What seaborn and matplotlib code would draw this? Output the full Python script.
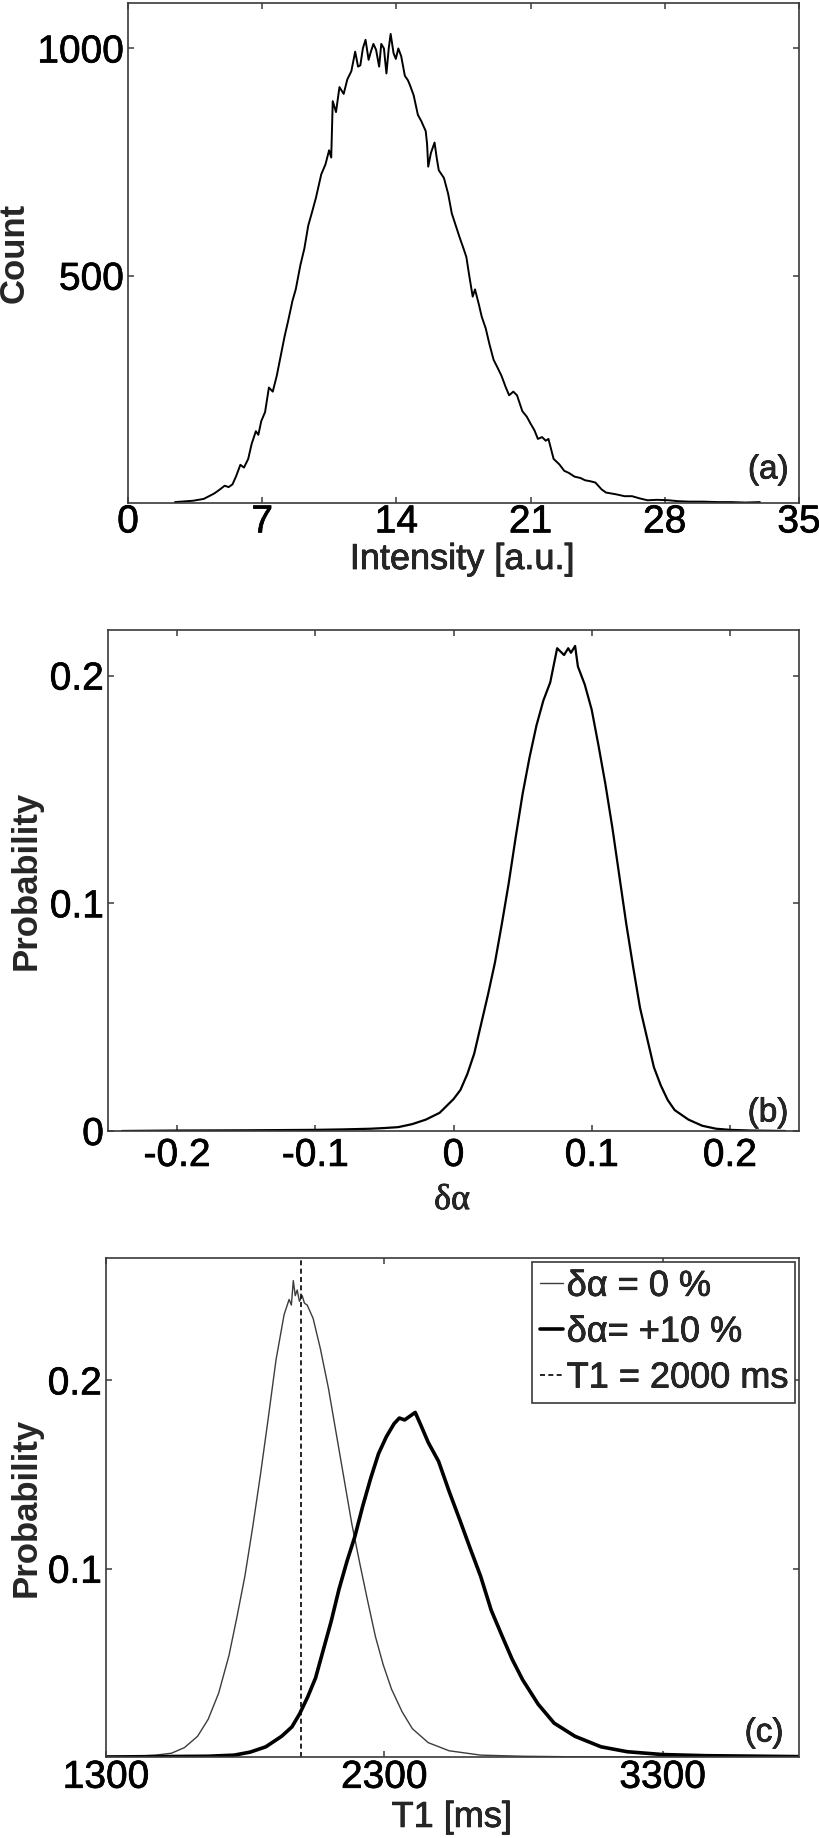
import matplotlib
matplotlib.use("Agg")
import matplotlib.pyplot as plt
import matplotlib.patheffects as pe
import seaborn as sns
import pandas as pd

# ---------------- data ----------------
intensity = [2.45, 3.4, 3.95, 4.5, 4.8, 5.04, 5.25, 5.45, 5.65, 5.86, 6.05, 6.27, 6.45, 6.67, 6.8,
             6.95, 7.15, 7.35, 7.55, 7.76, 7.95, 8.17, 8.35, 8.58, 8.75, 8.99, 9.2, 9.4, 9.6, 9.8,
             10.08, 10.3, 10.49, 10.6, 10.68, 10.85, 11.03, 11.25, 11.44, 11.65, 11.85, 12.0, 12.12,
             12.25, 12.39, 12.55, 12.67, 12.8, 12.94, 13.1, 13.21, 13.35, 13.48, 13.6, 13.7, 13.85,
             13.97, 14.1, 14.25, 14.35, 14.44, 14.6, 14.71, 14.9, 15.12, 15.3, 15.53, 15.6, 15.66,
             15.8, 15.99, 16.1, 16.21, 16.48, 16.7, 16.89, 17.1, 17.3, 17.5, 17.65, 17.8, 17.98,
             18.1, 18.3, 18.45, 18.66, 18.85, 19.07, 19.25, 19.48, 19.7, 19.88, 20.1, 20.29, 20.57,
             20.8, 20.98, 21.2, 21.38, 21.6, 21.79, 21.93, 22.2, 22.5, 22.75, 23.0, 23.29, 23.6,
             23.84, 24.1, 24.38, 24.7, 24.93, 25.2, 25.47, 25.9, 26.29, 26.7, 27.1, 27.6, 28.2,
             28.7, 29.28, 30.0, 30.8, 31.46, 32.2, 32.96]
counts = [2, 5, 9, 21, 30, 38, 35, 41, 60, 84, 78, 97, 130, 158, 150, 180, 200, 254, 245, 280,
          320, 367, 400, 445, 470, 523, 560, 610, 640, 671, 723, 745, 776, 760, 884, 860, 915, 900,
          932, 950, 993, 960, 963, 1000, 1019, 975, 993, 1010, 997, 960, 1010, 1000, 945, 1000,
          1032, 990, 977, 1000, 983, 960, 940, 930, 919, 897, 854, 840, 818, 790, 740, 770, 793,
          760, 732, 715, 680, 637, 610, 584, 560, 541, 500, 454, 470, 437, 410, 384, 350, 315,
          300, 280, 255, 237, 245, 237, 202, 190, 176, 160, 141, 145, 137, 141, 97, 85, 71, 66,
          58, 55, 50, 48, 45, 30, 23, 21, 19, 15, 15, 10, 6, 7, 6, 4, 3, 3, 2, 2, 1, 2]

delta_alpha = [-0.24, -0.22, -0.2, -0.15, -0.1, -0.08, -0.06, -0.05, -0.04, -0.03, -0.02, -0.01,
               0.0, 0.005, 0.01, 0.015, 0.02, 0.025, 0.03, 0.035, 0.04, 0.045, 0.05, 0.055, 0.06,
               0.065, 0.07, 0.075, 0.08, 0.083, 0.085, 0.088, 0.09, 0.095, 0.1, 0.105, 0.11,
               0.115, 0.12, 0.125, 0.13, 0.135, 0.14, 0.145, 0.15, 0.155, 0.16, 0.17, 0.18,
               0.19, 0.2, 0.215, 0.24]
prob_alpha = [0.0, 0.0001, 0.0002, 0.0003, 0.0005, 0.0007, 0.001, 0.0013, 0.0017, 0.003, 0.005,
              0.008, 0.014, 0.018, 0.025, 0.034, 0.047, 0.060, 0.074, 0.091, 0.109, 0.129,
              0.148, 0.164, 0.178, 0.189, 0.197, 0.212, 0.209, 0.212, 0.210, 0.213, 0.204,
              0.196, 0.185, 0.169, 0.152, 0.133, 0.112, 0.091, 0.072, 0.054, 0.041, 0.028,
              0.020, 0.0136, 0.0092, 0.005, 0.0023, 0.001, 0.0005, 0.0002, 0.0]

t1_ms_0 = [1347, 1479, 1535, 1582, 1629, 1667, 1705, 1742, 1770, 1799, 1827, 1855, 1883, 1911,
           1940, 1958, 1966, 1973, 1980, 1987, 1995, 2005, 2013, 2023, 2044, 2070, 2099, 2127,
           2155, 2183, 2213, 2240, 2268, 2296, 2326, 2364, 2401, 2458, 2533, 2646, 2797, 2985,
           3300, 3788]
prob_t1_0 = [0.0, 0.001, 0.002, 0.005, 0.011, 0.020, 0.034, 0.054, 0.074, 0.096, 0.122, 0.150,
             0.180, 0.211, 0.235, 0.243, 0.240, 0.253, 0.245, 0.248, 0.242, 0.245, 0.241, 0.240,
             0.233, 0.217, 0.196, 0.172, 0.148, 0.124, 0.102, 0.083, 0.064, 0.049, 0.036,
             0.024, 0.015, 0.0076, 0.0033, 0.001, 0.0004, 0.0001, 0.0, 0.0]

t1_ms_10 = [1300, 1667, 1761, 1818, 1874, 1931, 1968, 1996, 2025, 2053, 2081, 2109, 2137, 2166,
            2194, 2222, 2251, 2279, 2307, 2335, 2354, 2373, 2392, 2411, 2429, 2458, 2495, 2533,
            2571, 2608, 2646, 2684, 2721, 2759, 2797, 2853, 2910, 2985, 3079, 3173, 3300, 3455,
            3788]
prob_t1_10 = [0.0, 0.0004, 0.001, 0.0026, 0.0054, 0.011, 0.016, 0.023, 0.032, 0.042, 0.057,
              0.072, 0.089, 0.104, 0.117, 0.133, 0.148, 0.161, 0.170, 0.177, 0.180, 0.179,
              0.181, 0.183, 0.177, 0.167, 0.157, 0.141, 0.126, 0.111, 0.096, 0.078, 0.065,
              0.052, 0.041, 0.028, 0.018, 0.011, 0.0054, 0.0028, 0.0013, 0.0007, 0.0002]

T1_TRUE = 2000
legend_labels = ["δα = 0 %", "δα= +10 %", "T1 = 2000 ms"]

# ---------------- style ----------------
sns.set_style("ticks")
plt.rcParams["font.family"] = ["Liberation Sans", "DejaVu Sans"]
plt.rcParams["axes.unicode_minus"] = False

EDGE = "#3a3a3a"
TICK_FS = 28
LABEL_FS = 26
HEAVY = [pe.withStroke(linewidth=0.5, foreground="black")]

fig = plt.figure(figsize=(8.19, 18.38), dpi=100)
W, H = 819.0, 1838.0


def make_ax(left, right, top, bottom):
    return fig.add_axes([left / W, 1 - bottom / H, (right - left) / W, (bottom - top) / H])


def style_ax(ax, xpad):
    for s in ax.spines.values():
        s.set_color(EDGE)
        s.set_linewidth(1.2)
        s.set_visible(True)
    ax.tick_params(direction="in", length=4.5, width=1.1, color=EDGE, top=True, right=True,
                   labelsize=TICK_FS, labelcolor="black")
    ax.tick_params(axis="x", pad=xpad)
    ax.tick_params(axis="y", pad=3)
    for t in ax.get_xticklabels() + ax.get_yticklabels():
        t.set_path_effects(HEAVY)


# ---- panel (a)
ax1 = make_ax(128, 799, 3, 503)
df_a = pd.DataFrame({"Intensity": intensity, "Count": counts})
sns.lineplot(data=df_a, x="Intensity", y="Count", ax=ax1, color="black", linewidth=1.4,
             sort=False, estimator=None)
ax1.set_xlim(0, 35)
ax1.set_ylim(0, 1100)
ax1.set_xticks([0, 7, 14, 21, 28, 35])
ax1.set_xticklabels(["0", "7", "14", "21", "28", "35"])
ax1.set_yticks([500, 1000])
ax1.set_yticklabels(["500", "1000"])
style_ax(ax1, 1)
ax1.set_xlabel("Intensity [a.u.]", fontsize=LABEL_FS, path_effects=HEAVY)
ax1.set_ylabel("Count", fontsize=25, fontweight="bold")
ax1.xaxis.set_label_coords(0.498, -0.078)
ax1.yaxis.set_label_coords(-0.145, 0.5)
ax1.text(0.985, 0.066, "(a)", transform=ax1.transAxes, ha="right", va="center", fontsize=24,
         path_effects=HEAVY)

# ---- panel (b)
ax2 = make_ax(108, 799, 630, 1131)
df_b = pd.DataFrame({"da": delta_alpha, "p": prob_alpha})
sns.lineplot(data=df_b, x="da", y="p", ax=ax2, color="black", linewidth=1.6,
             sort=False, estimator=None)
ax2.set_xlim(-0.25, 0.25)
ax2.set_ylim(0, 0.22)
ax2.set_xticks([-0.2, -0.1, 0, 0.1, 0.2])
ax2.set_xticklabels(["-0.2", "-0.1", "0", "0.1", "0.2"])
ax2.set_yticks([0, 0.1, 0.2])
ax2.set_yticklabels(["0", "0.1", "0.2"])
style_ax(ax2, 5)
ax2.set_xlabel("δα", fontsize=LABEL_FS, family=["Liberation Serif", "DejaVu Serif"],
               path_effects=HEAVY)
ax2.set_ylabel("Probability", fontsize=25, fontweight="bold")
ax2.xaxis.set_label_coords(0.498, -0.106)
ax2.yaxis.set_label_coords(-0.095, 0.5)
ax2.text(0.985, 0.036, "(b)", transform=ax2.transAxes, ha="right", va="center", fontsize=24,
         path_effects=HEAVY)

# ---- panel (c)
ax3 = make_ax(106, 799, 1258, 1757)
df_c0 = pd.DataFrame({"T1": t1_ms_0, "p": prob_t1_0})
df_c1 = pd.DataFrame({"T1": t1_ms_10, "p": prob_t1_10})
sns.lineplot(data=df_c0, x="T1", y="p", ax=ax3, color="#3c3c3c", linewidth=1.0,
             sort=False, estimator=None, label=legend_labels[0])
sns.lineplot(data=df_c1, x="T1", y="p", ax=ax3, color="black", linewidth=2.6,
             sort=False, estimator=None, label=legend_labels[1])
ax3.axvline(T1_TRUE, color="black", linestyle=(0, (3, 2)), linewidth=1.2, label=legend_labels[2])
ax3.set_xlim(1300, 3790)
ax3.set_ylim(0, 0.265)
ax3.set_xticks([1300, 2300, 3300])
ax3.set_xticklabels(["1300", "2300", "3300"])
ax3.set_yticks([0.1, 0.2])
ax3.set_yticklabels(["0.1", "0.2"])
style_ax(ax3, 2)
ax3.set_xlabel("T1 [ms]", fontsize=LABEL_FS, path_effects=HEAVY)
ax3.set_ylabel("Probability", fontsize=25, fontweight="bold")
ax3.xaxis.set_label_coords(0.499, -0.086)
ax3.yaxis.set_label_coords(-0.092, 0.5)
ax3.text(0.978, 0.048, "(c)", transform=ax3.transAxes, ha="right", va="center", fontsize=24,
         path_effects=HEAVY)

leg = ax3.legend(loc="upper right", bbox_to_anchor=(1.0, 1.0), fontsize=LABEL_FS,
                 handlelength=0.65, handletextpad=0.1, borderpad=0.2, labelspacing=0.3,
                 borderaxespad=0.1, fancybox=False, framealpha=1.0, edgecolor=EDGE)
leg.get_frame().set_linewidth(1.2)
for t in leg.get_texts():
    t.set_path_effects(HEAVY)

fig.savefig("out.png", dpi=100, facecolor="white")
